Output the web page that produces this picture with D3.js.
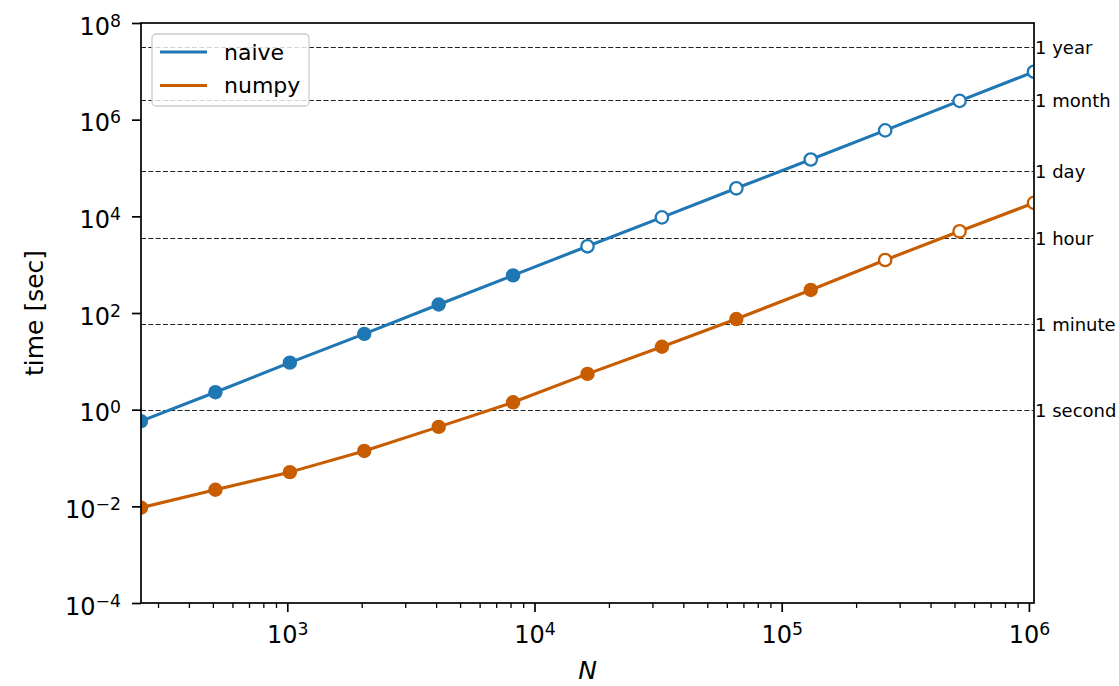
<!DOCTYPE html>
<html>
<head>
<meta charset="utf-8">
<script src="https://cdn.jsdelivr.net/npm/d3@7"></script>
<style>
  body { margin: 0; background: #fff; }
  text { font-family: "DejaVu Sans", sans-serif; fill: #000; }
</style>
</head>
<body>
<svg id="chart" width="1119" height="686"></svg>
<script>
// Problem sizes and run times (seconds)
const sizes = [256, 512, 1024, 2048, 4096, 8192, 16384, 32768, 65536, 131072, 262144, 524288, 1048576];
const naiveTimes = [0.58, 2.3, 9.4, 37, 150, 600, 2400, 9500, 38000, 150000, 600000, 2.45e6, 9.8e6];
const numpyTimes = [0.0094, 0.022, 0.051, 0.14, 0.44, 1.42, 5.5, 20, 75, 300, 1250, 4900, 19000];
// filled marker = measured, open marker = extrapolated
const naiveMeasured = [true, true, true, true, true, true, false, false, false, false, false, false, false];
const numpyMeasured = [true, true, true, true, true, true, true, true, true, true, false, false, false];

// Reference durations drawn as dashed lines
const refLabels = ["1 second", "1 minute", "1 hour", "1 day", "1 month", "1 year"];
const refSeconds = [1, 60, 3600, 86400, 2592000, 31536000];

// Axis ticks
const xTickValues = [1e3, 1e4, 1e5, 1e6];
const xTickExponents = ["3", "4", "5", "6"];
const yTickValues = [1e-4, 1e-2, 1e0, 1e2, 1e4, 1e6, 1e8];
const yTickExponents = ["\u22124", "\u22122", "0", "2", "4", "6", "8"];

const seriesNames = ["naive", "numpy"];
const seriesColors = ["#1f77b4", "#c85c00"];

const plot = { left: 141, right: 1034, top: 23, bottom: 603 };

const svg = d3.select("#chart");

const x = d3.scaleLog().domain([256, 1048576]).range([plot.left, plot.right]);
const y = d3.scaleLog().domain([1e-4, 1e8]).range([plot.bottom, plot.top]);

svg.append("defs").append("clipPath").attr("id", "plot-clip")
  .append("rect")
  .attr("x", plot.left).attr("y", plot.top)
  .attr("width", plot.right - plot.left).attr("height", plot.bottom - plot.top);

// dashed reference lines
const refG = svg.append("g");
refSeconds.forEach((s, i) => {
  const yy = Math.round(y(s)) + 0.5;
  refG.append("line")
    .attr("x1", plot.left).attr("x2", plot.right)
    .attr("y1", yy).attr("y2", yy)
    .attr("stroke", "#222").attr("stroke-width", 1.1)
    .attr("stroke-dasharray", "5,2.3");
  refG.append("text")
    .attr("x", plot.right + 1).attr("y", yy)
    .attr("dy", "0.36em")
    .style("font-size", "18px")
    .text(refLabels[i]);
});

// series lines and markers
const series = [
  { name: seriesNames[0], color: seriesColors[0], times: naiveTimes, measured: naiveMeasured },
  { name: seriesNames[1], color: seriesColors[1], times: numpyTimes, measured: numpyMeasured }
];

const line = d3.line().x(d => x(d[0])).y(d => y(d[1]));
const dataG = svg.append("g").attr("clip-path", "url(#plot-clip)");

series.forEach(s => {
  const pts = sizes.map((n, i) => [n, s.times[i], s.measured[i]]);
  dataG.append("path")
    .datum(pts)
    .attr("d", line)
    .attr("fill", "none")
    .attr("stroke", s.color)
    .attr("stroke-width", 3.1)
    .attr("stroke-linejoin", "round");
  dataG.selectAll(null)
    .data(pts)
    .join("circle")
    .attr("cx", d => x(d[0]))
    .attr("cy", d => y(d[1]))
    .attr("r", d => d[2] ? 7.2 : 6.2)
    .attr("fill", d => d[2] ? s.color : "#fff")
    .attr("stroke", s.color)
    .attr("stroke-width", d => d[2] ? 0 : 2.3);
});

// frame
svg.append("rect")
  .attr("x", plot.left).attr("y", plot.top)
  .attr("width", plot.right - plot.left).attr("height", plot.bottom - plot.top)
  .attr("fill", "none").attr("stroke", "#000").attr("stroke-width", 1.7);

function powerLabel(sel, exps) {
  sel.each(function (d, i) {
    const t = d3.select(this).text(null);
    t.append("tspan").text("10");
    t.append("tspan").attr("dy", "-0.48em").style("font-size", "0.72em").text(exps[i]);
  });
}

// x axis: minor ticks
const xMinor = x.ticks().filter(v => xTickValues.indexOf(v) < 0);
svg.append("g")
  .attr("transform", `translate(0,${plot.bottom})`)
  .call(d3.axisBottom(x).tickValues(xMinor).tickSize(5).tickFormat(""))
  .call(g => g.select(".domain").remove())
  .call(g => g.selectAll(".tick line").attr("stroke-width", 1.3));

// x axis: major ticks
const xAxisG = svg.append("g")
  .attr("transform", `translate(0,${plot.bottom})`)
  .call(d3.axisBottom(x).tickValues(xTickValues).tickSize(9).tickPadding(14).tickFormat(() => ""))
  .call(g => g.select(".domain").remove())
  .call(g => g.selectAll(".tick line").attr("stroke-width", 1.7));
xAxisG.selectAll(".tick text")
  .attr("fill", null)
  .style("font-size", "24px")
  .attr("dy", "0.71em")
  .call(powerLabel, xTickExponents);

// y axis
const yAxisG = svg.append("g")
  .attr("transform", `translate(${plot.left},0)`)
  .call(d3.axisLeft(y).tickValues(yTickValues).tickSize(9).tickPadding(11).tickFormat(() => ""))
  .call(g => g.select(".domain").remove())
  .call(g => g.selectAll(".tick line").attr("stroke-width", 1.7));
yAxisG.selectAll(".tick text")
  .attr("fill", null)
  .style("font-size", "24px")
  .attr("dy", "0.47em")
  .call(powerLabel, yTickExponents);

// axis titles
svg.append("text")
  .attr("x", (plot.left + plot.right) / 2).attr("y", 679)
  .attr("text-anchor", "middle")
  .style("font-size", "25px").style("font-style", "italic")
  .text("N");
svg.append("text")
  .attr("transform", `translate(43,${(plot.top + plot.bottom) / 2}) rotate(-90)`)
  .attr("text-anchor", "middle")
  .style("font-size", "25px")
  .text("time [sec]");

// legend
const legend = svg.append("g");
legend.append("rect")
  .attr("x", 152).attr("y", 34).attr("width", 157).attr("height", 72)
  .attr("rx", 4)
  .attr("fill", "#fff").attr("fill-opacity", 0.8)
  .attr("stroke", "#ccc").attr("stroke-width", 1.3);
series.forEach((s, i) => {
  const ly = 52 + i * 33.5;
  legend.append("line")
    .attr("x1", 160).attr("x2", 207).attr("y1", ly).attr("y2", ly)
    .attr("stroke", s.color).attr("stroke-width", 3.1);
  legend.append("text")
    .attr("x", 224).attr("y", ly).attr("dy", "0.35em")
    .style("font-size", "22px")
    .text(s.name);
});
</script>
</body>
</html>
